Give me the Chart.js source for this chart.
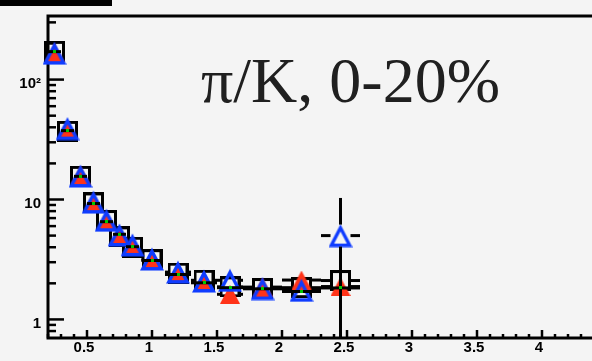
<!DOCTYPE html>
<html>
<head>
<meta charset="utf-8">
<script src="https://cdn.jsdelivr.net/npm/chart.js@4/dist/chart.umd.min.js"></script>
<style>
  html, body { margin: 0; padding: 0; background: #f4f4f4; overflow: hidden; }
  canvas { display: block; }
</style>
</head>
<body>
<canvas id="ratio" width="620" height="361"></canvas>
<script>
// pT bin centres (GeV/c) and bin half-widths
const ptCenters    = [0.25, 0.35, 0.45, 0.55, 0.65, 0.75, 0.85, 1.0, 1.2, 1.4, 1.6, 1.85, 2.15, 2.45];
const ptHalfWidths = [0.05, 0.05, 0.05, 0.05, 0.05, 0.05, 0.05, 0.08, 0.1, 0.1, 0.1, 0.15, 0.15, 0.15];

// pi/K ratio, one array per measurement
const ratioSquares = [172, 37.0, 15.6, 9.37, 6.68, 4.88, 4.0, 3.15, 2.43, 2.12, 1.87, 1.81, 1.84, 2.11];
const ratioRed     = [168, 38.5, 16.0, 9.4, 6.6, 5.0, 4.1, 3.12, 2.42, 2.05, 1.62, 1.86, 2.13, 1.88];
const ratioBlue    = [166, 39.0, 15.7, 9.52, 6.72, 5.06, 4.18, 3.19, 2.48, 2.09, 2.12, 1.81, 1.75, 5.0];
const ratioBlueErr = [0, 0, 0, 0, 0, 0, 0, 0, 0, 0, 0, 0, 0, 5.3];
const ratioGreen   = [171, 37.5, 15.6, 9.25, 6.53, 5.13, 4.04, 3.10, 2.37, 2.02, 1.84, 1.80, 1.71, 1.83];

// axis ticks and labels
const xMajorTicks = [0.5, 1, 1.5, 2, 2.5, 3, 3.5, 4, 4.5];
const xTickLabels = ['0.5', '1', '1.5', '2', '2.5', '3', '3.5', '4', '4.5'];
const yMajorTicks = [1, 10, 100];
const yTickLabels = ['1', '10', '10²'];
const titleText = 'π/K, 0-20%';

// ---- marker images ----
function makeMarker(w, h, draw) {
  const c = document.createElement('canvas');
  c.width = w; c.height = h;
  draw(c.getContext('2d'));
  return c;
}
const squareMarker = makeMarker(21, 21, g => {
  g.strokeStyle = '#000'; g.lineWidth = 3;
  g.strokeRect(1.5, 1.5, 18, 18);
});
const redMarker = makeMarker(20, 19, g => {
  g.fillStyle = '#ff3318';
  g.beginPath(); g.moveTo(10, 0); g.lineTo(20, 19); g.lineTo(0, 19); g.closePath(); g.fill();
});
const blueMarker = makeMarker(24, 24, g => {
  g.strokeStyle = '#0f3cff'; g.lineWidth = 3.4; g.lineJoin = 'miter';
  g.beginPath(); g.moveTo(12, 4.2); g.lineTo(21.2, 21.8); g.lineTo(2.8, 21.8); g.closePath(); g.stroke();
});
const greenMarker = makeMarker(3, 3, g => {
  g.fillStyle = '#00c800'; g.fillRect(0, 0, 3, 3);
});

const toPoints = vals => ptCenters.map((x, i) => ({ x, y: vals[i] }));

// series drawn with black error bars; gap = half size of the marker
const barSeries = [
  { vals: ratioSquares, yerr: null, gap: 10 },
  { vals: ratioRed, yerr: null, gap: 10 },
  { vals: ratioBlue, yerr: ratioBlueErr, gap: 10, gapUp: 11, gapDown: 11 },
  { vals: ratioGreen, yerr: null, gap: 0 }
];

const BG = '#f4f4f4';

const framePlugin = {
  id: 'frame',
  beforeDraw(chart) {
    const ctx = chart.ctx;
    ctx.save();
    ctx.fillStyle = BG;
    ctx.fillRect(0, 0, chart.width, chart.height);
    ctx.fillStyle = '#000';
    ctx.fillRect(0, 0, 112, 6);
    ctx.restore();
  },
  beforeDatasetsDraw(chart) {
    const ctx = chart.ctx;
    const a = chart.chartArea;
    const xs = chart.scales.x, ys = chart.scales.y;
    ctx.save();
    ctx.strokeStyle = '#000';
    ctx.lineCap = 'butt';
    // x ticks (pointing up into the frame)
    ctx.lineWidth = 2.5;
    xs.ticks.forEach(t => {
      const px = xs.getPixelForValue(t.value);
      const major = xMajorTicks.some(m => Math.abs(m - t.value) < 1e-6);
      const len = major ? 8 : 4;
      ctx.beginPath(); ctx.moveTo(px, a.bottom); ctx.lineTo(px, a.bottom - len); ctx.stroke();
    });
    // y ticks (pointing right into the frame)
    ys.ticks.forEach(t => {
      const py = ys.getPixelForValue(t.value);
      const major = yMajorTicks.some(m => Math.abs(m - t.value) < 1e-9);
      const len = major ? 16 : 8;
      ctx.beginPath(); ctx.moveTo(a.left, py); ctx.lineTo(a.left + len, py); ctx.stroke();
    });
    // frame lines
    ctx.lineWidth = 3;
    ctx.beginPath();
    ctx.moveTo(a.right, a.top); ctx.lineTo(a.left, a.top);
    ctx.lineTo(a.left, a.bottom); ctx.lineTo(a.right, a.bottom);
    ctx.stroke();
    // title
    ctx.fillStyle = '#202020';
    ctx.font = '64px "Liberation Serif"';
    ctx.textBaseline = 'alphabetic';
    ctx.textAlign = 'left';
    ctx.fillText(titleText, 201, 102);
    ctx.restore();
  },
  beforeDatasetDraw(chart, args) {
    if (chart.data.datasets[args.index].label !== 'green') return;
    const ctx = chart.ctx;
    const a = chart.chartArea;
    const xs = chart.scales.x, ys = chart.scales.y;
    ctx.save();
    ctx.beginPath(); ctx.rect(a.left, a.top, a.right - a.left, a.bottom - a.top); ctx.clip();
    ctx.strokeStyle = '#000';
    ctx.lineWidth = 3;
    ctx.lineCap = 'butt';
    const seg = (x1, y1, x2, y2) => { ctx.beginPath(); ctx.moveTo(x1, y1); ctx.lineTo(x2, y2); ctx.stroke(); };
    barSeries.forEach(s => {
      ptCenters.forEach((x, i) => {
        const px = xs.getPixelForValue(x);
        const py = ys.getPixelForValue(s.vals[i]);
        const xl = xs.getPixelForValue(x - ptHalfWidths[i]);
        const xr = xs.getPixelForValue(x + ptHalfWidths[i]);
        if (px - s.gap > xl) seg(xl, py, px - s.gap, py);
        if (px + s.gap < xr) seg(px + s.gap, py, xr, py);
        if (s.yerr && s.yerr[i] > 0) {
          const top = ys.getPixelForValue(s.vals[i] + s.yerr[i]);
          const lowVal = s.vals[i] - s.yerr[i];
          const bot = lowVal > ys.min ? ys.getPixelForValue(lowVal) : a.bottom;
          if (top < py - s.gapUp) seg(px, top, px, py - s.gapUp);
          if (bot > py + s.gapDown) seg(px, py + s.gapDown, px, bot);
        }
      });
    });
    ctx.restore();
  }
};

const tickFont = { family: '"Liberation Sans", Arial, sans-serif', size: 15, weight: 'bold' };

new Chart(document.getElementById('ratio'), {
  type: 'scatter',
  data: {
    datasets: [
      { label: 'squares', data: toPoints(ratioSquares), pointStyle: squareMarker, pointRadius: 10, order: 4, clip: false },
      { label: 'red', data: toPoints(ratioRed), pointStyle: redMarker, pointRadius: 10, order: 3, clip: false },
      { label: 'blue', data: toPoints(ratioBlue), pointStyle: blueMarker, pointRadius: 10, order: 2, clip: false },
      { label: 'green', data: toPoints(ratioGreen), pointStyle: greenMarker, pointRadius: 2, order: 1, clip: false }
    ]
  },
  options: {
    responsive: false,
    animation: false,
    devicePixelRatio: 1,
    layout: { autoPadding: false, padding: { top: 16, left: 0, right: 0, bottom: 0 } },
    plugins: { legend: { display: false }, tooltip: { enabled: false } },
    elements: { point: { hoverRadius: 10 } },
    scales: {
      x: {
        type: 'linear',
        min: 0.2,
        max: 4.6,
        grid: { display: false, drawTicks: false },
        border: { display: false },
        afterBuildTicks: scale => {
          const t = [];
          for (let k = 2; k <= 46; k++) t.push({ value: k / 10 });
          scale.ticks = t;
        },
        afterFit: scale => { scale.height = 23; scale.paddingLeft = 0; scale.paddingRight = 0; },
        ticks: {
          autoSkip: false,
          maxRotation: 0,
          padding: 1,
          labelOffset: -3,
          color: '#000',
          font: tickFont,
          callback: v => {
            const i = xMajorTicks.findIndex(m => Math.abs(m - v) < 1e-6);
            return i >= 0 ? xTickLabels[i] : '';
          }
        }
      },
      y: {
        type: 'logarithmic',
        min: 0.745,
        max: 339,
        grid: { display: false, drawTicks: false },
        border: { display: false },
        afterBuildTicks: scale => {
          const vals = [0.8, 0.9];
          [1, 10, 100].forEach(d => { for (let k = 1; k <= 9; k++) { const v = k * d; if (v <= 339) vals.push(v); } });
          scale.ticks = vals.map(v => ({ value: v }));
        },
        afterFit: scale => { scale.width = 48; scale.paddingTop = 0; scale.paddingBottom = 0; },
        ticks: {
          autoSkip: false,
          padding: 7,
          labelOffset: 4,
          color: '#000',
          font: tickFont,
          callback: v => {
            const i = yMajorTicks.findIndex(m => Math.abs(m - v) < 1e-9);
            return i >= 0 ? yTickLabels[i] : '';
          }
        }
      }
    }
  },
  plugins: [framePlugin]
});
</script>
</body>
</html>
